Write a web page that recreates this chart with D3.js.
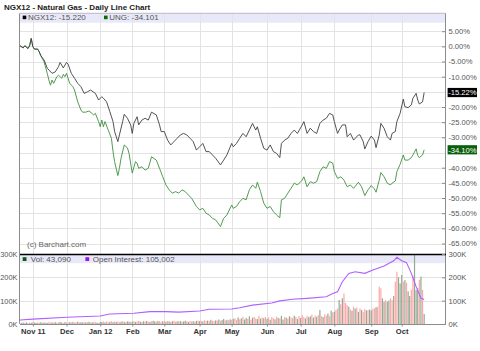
<!DOCTYPE html>
<html><head><meta charset="utf-8">
<script src="https://cdn.jsdelivr.net/npm/d3@7"></script>
<style>
body{margin:0;background:#fff}
svg{display:block;font-family:"Liberation Sans",Arial,Helvetica,sans-serif}
</style>
</head><body>
<svg id="c" width="480" height="351"></svg>
<script>
// ---------- DATA ----------
const title = "NGX12 - Natural Gas - Daily Line Chart";
const copyright = "(c) Barchart.com";
// session index (trading day since 2011-10-20) of first trading day of each month
const monthIdx = [8, 29, 50, 70, 90, 112, 132, 154, 175, 196, 219, 238];
const monthLabels = ["Nov 11", "Dec", "Jan 12", "Feb", "Mar", "Apr", "May", "Jun", "Jul", "Aug", "Sep", "Oct"];
const pctTicks = [5, 0, -5, -10, -15, -20, -25, -30, -35, -40, -45, -50, -55, -60, -65];
const volTicks = [0, 100, 200, 300];

const ngxName = "NGX12", ngxLast = -15.220;
const ungName = "UNG", ungLast = -34.101;
const volLast = "43,090", oiLast = "105,002";

const ngxIdx = [0,2,3,5,6,7,8,9,11,12,13,15,17,20,22,24,25,27,29,30,32,34,36,38,40,42,44,47,49,51,52,54,56,58,59,61,62,64,65,67,69,70,71,73,74,76,78,80,82,85,87,88,90,92,94,96,98,100,102,104,106,108,110,112,114,116,118,120,122,125,127,129,132,133,135,137,139,141,143,145,147,148,150,152,154,156,158,160,162,163,165,167,169,171,173,176,177,179,181,183,185,187,189,191,193,195,196,198,199,201,203,204,206,208,211,212,214,215,217,219,221,222,224,225,227,229,231,232,234,235,237,239,240,242,244,245,247,248,249,251,252];
const ngxPct = [0.2,-0.5,0.2,-0.7,0.2,2.6,-0.1,-0.9,-0.9,-1.8,-3.1,-4.5,-7.2,-8.9,-8.4,-6.7,-5.3,-7.1,-5.3,-5.9,-8.9,-10.5,-12.2,-13.3,-15.5,-15.0,-14.4,-15.5,-17.7,-16.6,-17.1,-18.3,-21.5,-24.8,-28.1,-31.4,-29.2,-24.8,-22.4,-23.7,-25.9,-28.7,-25.4,-23.2,-25.9,-24.3,-23.7,-24.3,-21.7,-22.6,-25.9,-28.1,-28.1,-30.9,-32.5,-31.4,-30.3,-29.2,-28.7,-29.2,-30.3,-31.4,-34.2,-33.1,-32.0,-34.7,-34.7,-35.8,-36.9,-39.1,-37.5,-35.8,-32.0,-33.1,-32.0,-30.3,-28.7,-29.8,-27.6,-25.4,-27.6,-26.5,-30.3,-33.6,-34.2,-32.5,-34.7,-35.3,-36.7,-32.0,-30.9,-30.3,-28.7,-27.6,-28.7,-25.9,-24.8,-28.7,-27.0,-28.1,-28.7,-25.4,-24.3,-23.7,-22.1,-22.6,-24.8,-28.7,-27.6,-25.9,-25.9,-29.8,-28.7,-30.9,-29.2,-29.2,-31.4,-33.8,-31.4,-29.6,-30.9,-33.4,-29.2,-25.4,-27.0,-29.8,-30.9,-28.7,-28.1,-24.8,-22.1,-17.4,-19.9,-20.2,-19.3,-17.1,-15.5,-17.7,-19.0,-18.3,-15.22];

const ungIdx = [0,2,3,5,6,7,8,9,11,12,13,15,17,18,19,20,21,23,24,26,27,28,29,31,33,34,36,38,39,41,43,46,47,49,50,51,52,53,55,57,58,59,61,62,63,65,67,68,70,72,73,74,76,78,80,82,85,87,89,91,93,95,97,99,101,103,105,107,110,112,114,116,118,120,122,125,127,129,132,133,135,137,139,141,143,145,147,148,150,152,154,156,158,160,162,163,165,167,169,171,173,176,177,179,181,183,185,187,189,191,193,195,196,198,200,202,204,206,208,211,213,215,217,219,221,222,224,225,227,229,231,232,234,235,237,239,240,242,244,245,247,248,249,251,252];
const ungPct = [0.2,-0.5,0.2,-0.7,0.2,2.6,-0.1,-0.9,-0.9,-1.8,-3.1,-5.1,-8.9,-11.1,-12.8,-11.1,-12.2,-10.0,-9.5,-10.5,-9.2,-10.0,-8.9,-12.2,-13.3,-14.4,-18.3,-21.0,-21.7,-21.7,-21.3,-22.6,-22.1,-24.8,-26.5,-24.3,-26.5,-24.8,-27.6,-30.3,-34.7,-38.0,-42.6,-40.2,-36.9,-32.5,-33.5,-35.3,-41.8,-38.0,-38.5,-40.2,-39.7,-40.8,-40.2,-36.4,-37.5,-40.2,-43.0,-45.7,-47.3,-48.4,-47.9,-48.4,-47.3,-47.9,-49.0,-50.1,-52.8,-53.9,-53.4,-55.0,-55.6,-56.7,-57.2,-59.4,-56.7,-55.6,-52.3,-53.4,-52.8,-51.2,-50.1,-50.6,-47.3,-45.7,-46.8,-44.8,-47.9,-51.7,-53.4,-52.8,-54.5,-55.6,-56.5,-50.6,-50.1,-48.4,-46.8,-45.1,-45.7,-44.1,-43.0,-46.3,-44.6,-45.1,-44.6,-41.3,-39.7,-40.2,-38.0,-38.5,-41.3,-43.5,-43.0,-44.1,-46.3,-45.7,-46.8,-44.8,-46.3,-49.2,-47.3,-45.9,-47.0,-48.1,-44.1,-41.6,-43.0,-45.1,-45.7,-45.1,-44.4,-41.3,-38.9,-35.8,-37.5,-37.5,-36.7,-35.8,-33.8,-36.0,-36.7,-35.8,-34.1];

// daily volume (thousands), one per session 0..252
const volK = [5,4,6,5,7,4,6,5,8,6,5,7,6,8,5,6,7,5,9,6,7,5,8,6,7,9,6,5,8,7,
 6,8,7,9,6,8,10,7,8,6,9,7,8,10,6,7,9,8,6,5,8,9,10,7,11,8,9,12,8,10,9,11,8,10,12,9,8,11,10,9,
 10,12,9,11,13,10,8,12,11,13,10,9,12,14,11,10,13,12,9,11,12,10,13,11,9,12,14,10,11,13,12,10,11,14,12,9,13,11,12,10,13,15,
 12,14,11,16,13,15,12,18,14,13,16,15,19,14,17,22,15,18,16,20,
 18,22,25,17,28,20,24,31,19,26,22,33,18,27,30,24,21,35,23,28,25,30,
 22,28,18,30,25,20,32,26,24,35,19,30,27,23,33,28,25,36,30,22,34,
 26,38,30,24,35,29,33,40,27,36,31,38,60,34,30,42,36,45,33,57,50,
 52,60,66,103,85,110,131,90,81,74,62,57,74,66,70,52,67,60,52,64,58,60,62,58,66,67,72,74,160,153,110,95,103,95,100,110,103,120,181,224,200,174,210,181,188,177,140,120,146,207,296,146,153,189,203,146,43];
// g = up day, r = down day
const volDir = "rggrgrrgrggrrgrgrgrrgrgrrggrgrrgrgrrgrggrgrgrgrrgrggrgrrgrgrgrrgrgrggrgrgrrgrgrgrgrggrgrrgrgrgrgrrgrgrggrgrrgrgrgrgrrgrgrrgrgrggrgrgrgrrgrgrggrgrgrrgrgrgrgrgrrgrgrggrgrgrrgrgrgrrgrggrgrgrgrgrrgrgrgr" +
  "rgrgrrrgrgrgrgrgrrgrggrrgrrrggrggrrgrrgggrgrggrrgggrgrgrg";

// open interest (thousands)
const oiIdx = [0,8,29,50,56,71,81,91,99,112,118,132,137,145,157,162,170,179,191,195,198,201,205,209,215,220,227,233,235,238,241,244,247,250,252];
const oiK   = [17,21,29,34,43,46,53,53,51,56,63,64,70,81,90,99,106,110,117,131,138,181,217,224,217,231,249,271,286,271,263,217,160,110,105];

// ---------- CHART ----------
const svg = d3.select("#c");
const L = 20, R = 445;
const x = d3.scaleLinear().domain([0, 265]).range([L, R]);
const y = d3.scaleLinear().domain([-65, 5]).range([243.5, 31.2]);
const yv = d3.scaleLinear().domain([0, 300]).range([324, 254]);
const gridC = "#e3e3e3", axisC = "#8c8c8c", textC = "#555";

// title
svg.append("text").attr("x", 4).attr("y", 10.3).attr("font-size", 8).attr("font-weight", "bold")
  .attr("fill", "#222").text(title);

// ---- main panel ----
svg.append("rect").attr("x", L).attr("y", 13.3).attr("width", R - L).attr("height", 9.4).attr("fill", "#e8e8f9");
svg.append("g").selectAll("line").data(pctTicks).join("line")
  .attr("x1", L).attr("x2", R).attr("y1", d => Math.round(y(d)) + 0.5).attr("y2", d => Math.round(y(d)) + 0.5)
  .attr("stroke", gridC);
svg.append("g").selectAll("line").data(monthIdx).join("line")
  .attr("x1", d => Math.round(x(d)) + 0.5).attr("x2", d => Math.round(x(d)) + 0.5)
  .attr("y1", 13.3).attr("y2", 254).attr("stroke", gridC);
svg.append("line").attr("x1", L).attr("x2", R).attr("y1", 13.3).attr("y2", 13.3).attr("stroke", "#b8b8c8");

const line = d3.line().x(d => x(d[0])).y(d => y(d[1]));
svg.append("path").datum(d3.zip(ungIdx, ungPct)).attr("d", line).attr("fill", "none")
  .attr("stroke", "#3f913f").attr("stroke-width", 0.9);
svg.append("path").datum(d3.zip(ngxIdx, ngxPct)).attr("d", line).attr("fill", "none")
  .attr("stroke", "#404040").attr("stroke-width", 0.9);

// legend main
svg.append("rect").attr("x", 22.7).attr("y", 15.6).attr("width", 3.6).attr("height", 3.6).attr("fill", "#000");
svg.append("text").attr("x", 28).attr("y", 20.4).attr("font-size", 8).attr("fill", textC)
  .text(ngxName + ": " + ngxLast.toFixed(3));
svg.append("rect").attr("x", 104).attr("y", 15.6).attr("width", 3.6).attr("height", 3.6).attr("fill", "#0a6a0a");
svg.append("text").attr("x", 109.3).attr("y", 20.4).attr("font-size", 8).attr("fill", textC)
  .text(ungName + ": " + ungLast.toFixed(3));

svg.append("text").attr("x", 27).attr("y", 247.3).attr("font-size", 8).attr("fill", "#666").text(copyright);

// right axis (percent)
const markers = [{v: ngxLast, bg: "#000"}, {v: ungLast, bg: "#0b5e0b"}];
const ax = d3.axisRight(y).tickValues(pctTicks.filter(t => markers.every(m => Math.abs(y(t) - y(m.v)) > 6)))
  .tickSizeInner(-3).tickSizeOuter(0).tickPadding(6).tickFormat(d => d.toFixed(2) + "%");
const gax = svg.append("g").attr("transform", `translate(${R},0)`).call(ax);
gax.select(".domain").remove();
gax.selectAll("line").attr("stroke", axisC);
gax.selectAll("text").attr("font-size", 7.6).attr("fill", textC).attr("font-family", null).attr("x", 3.5);
svg.append("line").attr("x1", R + 0.5).attr("x2", R + 0.5).attr("y1", 13.3).attr("y2", 324).attr("stroke", axisC);
svg.append("line").attr("x1", L - 0.5).attr("x2", L - 0.5).attr("y1", 13.3).attr("y2", 324).attr("stroke", axisC);

markers.forEach(m => {
  const yy = y(m.v);
  svg.append("rect").attr("x", 447.6).attr("y", yy - 4.6).attr("width", 29.4).attr("height", 9.2).attr("fill", m.bg);
  svg.append("text").attr("x", 462.3).attr("y", yy + 2.8).attr("text-anchor", "middle").attr("font-size", 7.6)
    .attr("fill", "#fff").text(m.v.toFixed(2) + "%");
});

// ---- volume panel ----
svg.append("rect").attr("x", L).attr("y", 254).attr("width", R - L).attr("height", 9.2).attr("fill", "#e8e8f9");
svg.append("g").selectAll("line").data([100, 200]).join("line")
  .attr("x1", L).attr("x2", R).attr("y1", d => Math.round(yv(d)) + 0.5).attr("y2", d => Math.round(yv(d)) + 0.5)
  .attr("stroke", gridC);
svg.append("g").selectAll("line").data(monthIdx).join("line")
  .attr("x1", d => Math.round(x(d)) + 0.5).attr("x2", d => Math.round(x(d)) + 0.5)
  .attr("y1", 254).attr("y2", 324).attr("stroke", gridC);

svg.append("g").selectAll("rect").data(volK).join("rect")
  .attr("x", (d, i) => x(i) - 0.6).attr("width", 1.2)
  .attr("y", d => yv(d)).attr("height", d => yv(0) - yv(d))
  .attr("fill", (d, i) => volDir[i] === "r" ? "#ffa8a8" : "#93a993");

svg.append("path").datum(d3.zip(oiIdx, oiK))
  .attr("d", d3.line().x(d => x(d[0])).y(d => yv(d[1])))
  .attr("fill", "none").attr("stroke", "#b060ff").attr("stroke-width", 1.1);

svg.append("line").attr("x1", L).attr("x2", R + 1).attr("y1", 254.5).attr("y2", 254.5).attr("stroke", "#000").attr("stroke-width", 1.6);
svg.append("line").attr("x1", L).attr("x2", R + 1).attr("y1", 324.5).attr("y2", 324.5).attr("stroke", axisC);

// volume legend
svg.append("rect").attr("x", 22.7).attr("y", 257.2).attr("width", 3.8).attr("height", 3.8).attr("fill", "#0a5a0a");
svg.append("text").attr("x", 30.8).attr("y", 262).attr("font-size", 8).attr("fill", textC).text("Vol: " + volLast);
svg.append("rect").attr("x", 85.4).attr("y", 257.2).attr("width", 3.8).attr("height", 3.8).attr("fill", "#9a10ee");
svg.append("text").attr("x", 92.8).attr("y", 262).attr("font-size", 8).attr("fill", textC).text("Open Interest: " + oiLast);

const vfmt = d => d + "K";
const avr = d3.axisRight(yv).tickValues(volTicks).tickSizeInner(-3).tickSizeOuter(0).tickPadding(6).tickFormat(vfmt);
const gvr = svg.append("g").attr("transform", `translate(${R},0)`).call(avr);
gvr.select(".domain").remove();
gvr.selectAll("line").attr("stroke", axisC);
gvr.selectAll("text").attr("font-size", 7.6).attr("fill", textC).attr("font-family", null).attr("x", 3.5);
const avl = d3.axisLeft(yv).tickValues(volTicks).tickSize(0).tickPadding(2.5).tickFormat(vfmt);
const gvl = svg.append("g").attr("transform", `translate(${L},0)`).call(avl);
gvl.select(".domain").remove();
gvl.selectAll("text").attr("font-size", 7.4).attr("fill", textC).attr("font-family", null);

// x axis
const axb = d3.axisBottom(x).tickValues(monthIdx).tickFormat((d, i) => monthLabels[i]).tickSize(2).tickPadding(2);
const gxb = svg.append("g").attr("transform", "translate(0,324.5)").call(axb);
gxb.select(".domain").remove();
gxb.selectAll("line").attr("stroke", axisC);
gxb.selectAll("text").attr("font-size", 7.6).attr("font-weight", "bold").attr("fill", "#333").attr("font-family", null);
</script>
</body></html>
